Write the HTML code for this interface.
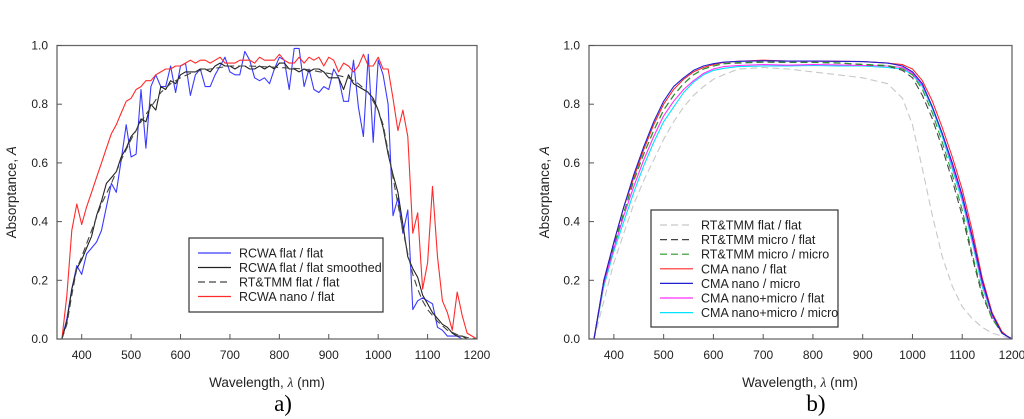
<!DOCTYPE html>
<html><head><meta charset="utf-8">
<style>
html,body{margin:0;padding:0;background:#fff;}
svg{display:block;font-family:"Liberation Sans",sans-serif;}
</style></head>
<body>
<svg id="fig" width="1024" height="419" viewBox="0 0 1024 419">
<g id="pa"></g>
<g id="pb"></g>
</svg>
<script>
// Panel a data
const wlA = [360,370,380,390,400,410,420,430,440,450,460,470,480,490,500,510,520,530,540,550,560,570,580,590,600,610,620,630,640,650,660,670,680,690,700,710,720,730,740,750,760,770,780,790,800,810,820,830,840,850,860,870,880,890,900,910,920,930,940,950,960,970,980,990,1000,1010,1020,1030,1040,1050,1060,1070,1080,1090,1100,1110,1120,1130,1140,1150,1160,1170,1180,1190,1200];
const rcwaFlat = [0,0.07,0.17,0.25,0.22,0.29,0.31,0.33,0.37,0.45,0.53,0.50,0.61,0.73,0.62,0.63,0.85,0.65,0.86,0.90,0.86,0.86,0.93,0.84,0.93,0.94,0.83,0.90,0.92,0.86,0.86,0.90,0.93,0.96,0.91,0.90,0.90,0.98,0.95,0.89,0.88,0.89,0.87,0.92,0.96,0.95,0.85,0.99,0.99,0.86,0.92,0.85,0.84,0.86,0.85,0.92,0.89,0.81,0.81,0.95,0.79,0.69,0.97,0.67,0.95,0.90,0.80,0.42,0.48,0.36,0.44,0.10,0.13,0.14,0.13,0.12,0.04,0.03,0.01,0.01,0.01,0,0,0,0];
const rcwaNano = [0,0.15,0.37,0.46,0.39,0.45,0.50,0.55,0.60,0.65,0.70,0.73,0.77,0.81,0.82,0.85,0.86,0.88,0.88,0.90,0.91,0.92,0.92,0.93,0.93,0.94,0.95,0.94,0.95,0.95,0.94,0.95,0.96,0.94,0.94,0.94,0.95,0.95,0.95,0.94,0.96,0.95,0.95,0.95,0.97,0.95,0.94,0.94,0.96,0.94,0.96,0.95,0.96,0.93,0.96,0.95,0.91,0.94,0.93,0.91,0.93,0.97,0.93,0.93,0.96,0.92,0.92,0.82,0.71,0.78,0.69,0.36,0.43,0.17,0.26,0.52,0.28,0.13,0.09,0.03,0.16,0.08,0.02,0.01,0];
const rcwaSmooth = [0,0.06,0.17,0.24,0.27,0.31,0.35,0.42,0.47,0.53,0.55,0.57,0.62,0.65,0.69,0.71,0.75,0.74,0.80,0.78,0.86,0.85,0.88,0.87,0.90,0.91,0.91,0.91,0.92,0.92,0.91,0.93,0.94,0.93,0.93,0.92,0.93,0.93,0.92,0.92,0.93,0.92,0.93,0.92,0.94,0.94,0.92,0.92,0.91,0.92,0.91,0.92,0.92,0.91,0.89,0.89,0.89,0.85,0.90,0.87,0.86,0.85,0.84,0.82,0.78,0.72,0.63,0.56,0.50,0.39,0.28,0.24,0.21,0.15,0.12,0.09,0.07,0.05,0.04,0.02,0.01,0.01,0,0,0];
const wlT = [360,370,380,390,400,420,440,460,480,500,520,540,560,580,600,620,640,660,680,700,740,800,850,900,940,960,980,1000,1010,1020,1030,1040,1050,1060,1070,1080,1090,1100,1120,1140,1160,1180,1200];
const rtFlatA = [0,0.05,0.15,0.24,0.28,0.37,0.46,0.53,0.61,0.68,0.74,0.79,0.84,0.87,0.89,0.905,0.915,0.92,0.925,0.93,0.93,0.925,0.92,0.905,0.89,0.87,0.84,0.78,0.73,0.64,0.55,0.46,0.37,0.29,0.22,0.17,0.13,0.10,0.06,0.03,0.015,0.005,0];
// Panel b data
const wlB = [360,380,400,420,440,460,480,500,520,540,560,580,600,620,650,700,750,800,850,900,950,980,1000,1020,1040,1060,1080,1100,1120,1140,1160,1180,1190,1200];
const rtFlatB = [0,0.13,0.26,0.36,0.46,0.54,0.61,0.68,0.74,0.79,0.83,0.86,0.885,0.90,0.92,0.925,0.92,0.91,0.90,0.89,0.87,0.82,0.73,0.58,0.42,0.28,0.18,0.11,0.07,0.04,0.02,0.01,0.005,0];
const rtMicroFlat = [0,0.2,0.32,0.43,0.54,0.63,0.71,0.78,0.83,0.87,0.90,0.92,0.93,0.938,0.94,0.943,0.942,0.942,0.94,0.935,0.93,0.915,0.89,0.83,0.75,0.65,0.54,0.42,0.28,0.15,0.07,0.02,0.01,0];
const rtMicroMicro = [0,0.2,0.32,0.43,0.54,0.63,0.71,0.78,0.83,0.87,0.90,0.92,0.93,0.938,0.942,0.944,0.943,0.943,0.941,0.936,0.932,0.92,0.90,0.85,0.77,0.67,0.56,0.44,0.29,0.16,0.07,0.02,0.01,0];
const cmaNanoFlat = [0,0.2,0.33,0.45,0.55,0.645,0.73,0.80,0.85,0.885,0.91,0.925,0.935,0.942,0.946,0.95,0.947,0.947,0.946,0.945,0.94,0.935,0.92,0.88,0.81,0.72,0.62,0.51,0.37,0.21,0.09,0.025,0.01,0];
const cmaNanoMicro = [0,0.2,0.33,0.45,0.56,0.655,0.74,0.81,0.86,0.89,0.915,0.93,0.938,0.943,0.946,0.948,0.947,0.947,0.946,0.945,0.94,0.93,0.91,0.87,0.79,0.70,0.60,0.49,0.35,0.2,0.085,0.02,0.01,0];
const cmaNMFlat = [0,0.19,0.31,0.42,0.52,0.61,0.69,0.76,0.81,0.85,0.88,0.905,0.92,0.928,0.932,0.935,0.933,0.935,0.934,0.932,0.93,0.925,0.905,0.865,0.79,0.70,0.59,0.48,0.34,0.19,0.08,0.02,0.01,0];
const cmaNMMicro = [0,0.18,0.30,0.40,0.50,0.59,0.67,0.74,0.79,0.84,0.875,0.90,0.915,0.922,0.928,0.93,0.93,0.932,0.93,0.93,0.925,0.92,0.90,0.86,0.785,0.69,0.58,0.47,0.33,0.18,0.08,0.02,0.01,0];
const xTicks = [400,500,600,700,800,900,1000,1100,1200];
const yTicks = [0.0,0.2,0.4,0.6,0.8,1.0];
const legendA = ["RCWA flat / flat","RCWA flat / flat smoothed","RT&TMM flat / flat","RCWA nano / flat"];
const legendB = ["RT&TMM flat / flat","RT&TMM micro / flat","RT&TMM micro / micro","CMA nano / flat","CMA nano / micro","CMA nano+micro / flat","CMA nano+micro / micro"];

const NS="http://www.w3.org/2000/svg";
function mk(tag, attrs, parent){const e=document.createElementNS(NS,tag);for(const k in attrs)e.setAttribute(k,attrs[k]);parent.appendChild(e);return e;}

function panel(g, L, R, T, B){
  const sx=v=>L+(v-350)/(1200-350)*(R-L);
  const sy=v=>B-v*(B-T);
  return {sx,sy};
}
function axes(g, L, R, T, B, sx, sy, pfx){
  const fr=mk('path',{d:`M${L},${T}H${R}V${B}H${L}Z`,fill:'none',stroke:'#666','stroke-width':1.3},g);
  
  
  xTicks.forEach(t=>{
    const x=sx(t);
    const tk=mk('line',{x1:x,x2:x,y1:B,y2:B-5,stroke:'#555','stroke-width':1},g);
    
    
    const tl=mk('text',{x:x,y:B+20,'text-anchor':'middle','font-size':12,fill:'#222'},g);
    tl.textContent=t;
    
    
  });
  yTicks.forEach(t=>{
    const y=sy(t);
    const tk=mk('line',{x1:L,x2:L+5,y1:y,y2:y,stroke:'#555','stroke-width':1},g);
    
    
    const tl=mk('text',{x:L-9,y:y+4,'text-anchor':'end','font-size':12,fill:'#222'},g);
    tl.textContent=t.toFixed(1);
    
    
  });
}
function series(g, xs, ys, sx, sy, color, dash, name, w){
  const d=xs.map((x,i)=>(i?'L':'M')+sx(x).toFixed(1)+','+sy(ys[i]).toFixed(1)).join('');
  const p=mk('path',{d:d,fill:'none',stroke:color,'stroke-width':w||1.1,'stroke-dasharray':dash||'none','stroke-linejoin':'round'},g);
  
  
}
function legend(g, x, y, w, h, y0, dy, labels, styles, pfx){
  const r=mk('rect',{x:x,y:y,width:w,height:h,fill:'#fff',stroke:'#333','stroke-width':1.2},g);
  
  
  labels.forEach((lab,i)=>{
    const yy=y0+i*dy;
    const s=styles[i];
    const ln=mk('line',{x1:x+9,x2:x+42,y1:yy,y2:yy,stroke:s[0],'stroke-width':1.2,'stroke-dasharray':s[1]||'none'},g);
    
    
    const t=mk('text',{x:x+50,y:yy+4.5,'font-size':12.5,fill:'#222'},g);
    t.textContent=lab;
    
    
  });
}
function titles(g, cx, L, T, B, ylx, label, pfx){
  const xt=mk('text',{x:cx,y:387,'text-anchor':'middle','font-size':13.5,fill:'#222'},g);
  xt.innerHTML='Wavelength, <tspan font-style="italic" font-family="Liberation Serif">λ</tspan> (nm)';
  
  
  const yt=mk('text',{x:ylx,y:(T+B)/2,'text-anchor':'middle','font-size':13.5,fill:'#222',transform:`rotate(-90 ${ylx} ${(T+B)/2})`},g);
  yt.innerHTML='Absorptance, <tspan font-style="italic">A</tspan>';
  
  
  const pl=mk('text',{x:cx+16,y:411,'text-anchor':'middle','font-size':23,'font-family':'Liberation Serif',fill:'#000'},g);
  pl.textContent=label;
  
  
}

// Panel a
(function(){
  const g=document.getElementById('pa');
  const L=57,R=477,T=45.5,B=339;
  const {sx,sy}=panel(g,L,R,T,B);
  series(g,wlA,rcwaFlat,sx,sy,'#3a3aff',null,'series-rcwa-flat');
  series(g,wlA,rcwaNano,sx,sy,'#ff2a2a',null,'series-rcwa-nano');
  series(g,wlA,rcwaSmooth,sx,sy,'#222',null,'series-rcwa-smoothed');
  series(g,wlT,rtFlatA,sx,sy,'#444','7,4','series-rttmm-flat');
  axes(g,L,R,T,B,sx,sy,'a');
  legend(g,189,238,194,74,253,14.5,legendA,[['#3a3aff'],['#222'],['#444','7,4'],['#ff2a2a']],'a');
  titles(g,267,L,T,B,16,'a)','a');
})();
// Panel b
(function(){
  const g=document.getElementById('pb');
  const L=589,R=1012,T=45.5,B=339;
  const {sx,sy}=panel(g,L,R,T,B);
  series(g,wlB,rtFlatB,sx,sy,'#c8c8c8','7,4','series-rttmm-flat-flat');
  series(g,wlB,cmaNMMicro,sx,sy,'#00e5ff',null,'series-cma-nanomicro-micro');
  series(g,wlB,cmaNMFlat,sx,sy,'#ff30ff',null,'series-cma-nanomicro-flat');
  series(g,wlB,rtMicroFlat,sx,sy,'#444','7,4','series-rttmm-micro-flat');
  series(g,wlB,rtMicroMicro,sx,sy,'#2a9a2a','7,4','series-rttmm-micro-micro');
  series(g,wlB,cmaNanoFlat,sx,sy,'#ff2a2a',null,'series-cma-nano-flat');
  series(g,wlB,cmaNanoMicro,sx,sy,'#2020d0',null,'series-cma-nano-micro');
  axes(g,L,R,T,B,sx,sy,'b');
  legend(g,651,210,187,117,225,14.6,legendB,[['#c8c8c8','7,4'],['#444','7,4'],['#2a9a2a','7,4'],['#ff2a2a'],['#2020d0'],['#ff30ff'],['#00e5ff']],'b');
  titles(g,800,L,T,B,549,'b)','b');
})();
</script>
</body></html>
